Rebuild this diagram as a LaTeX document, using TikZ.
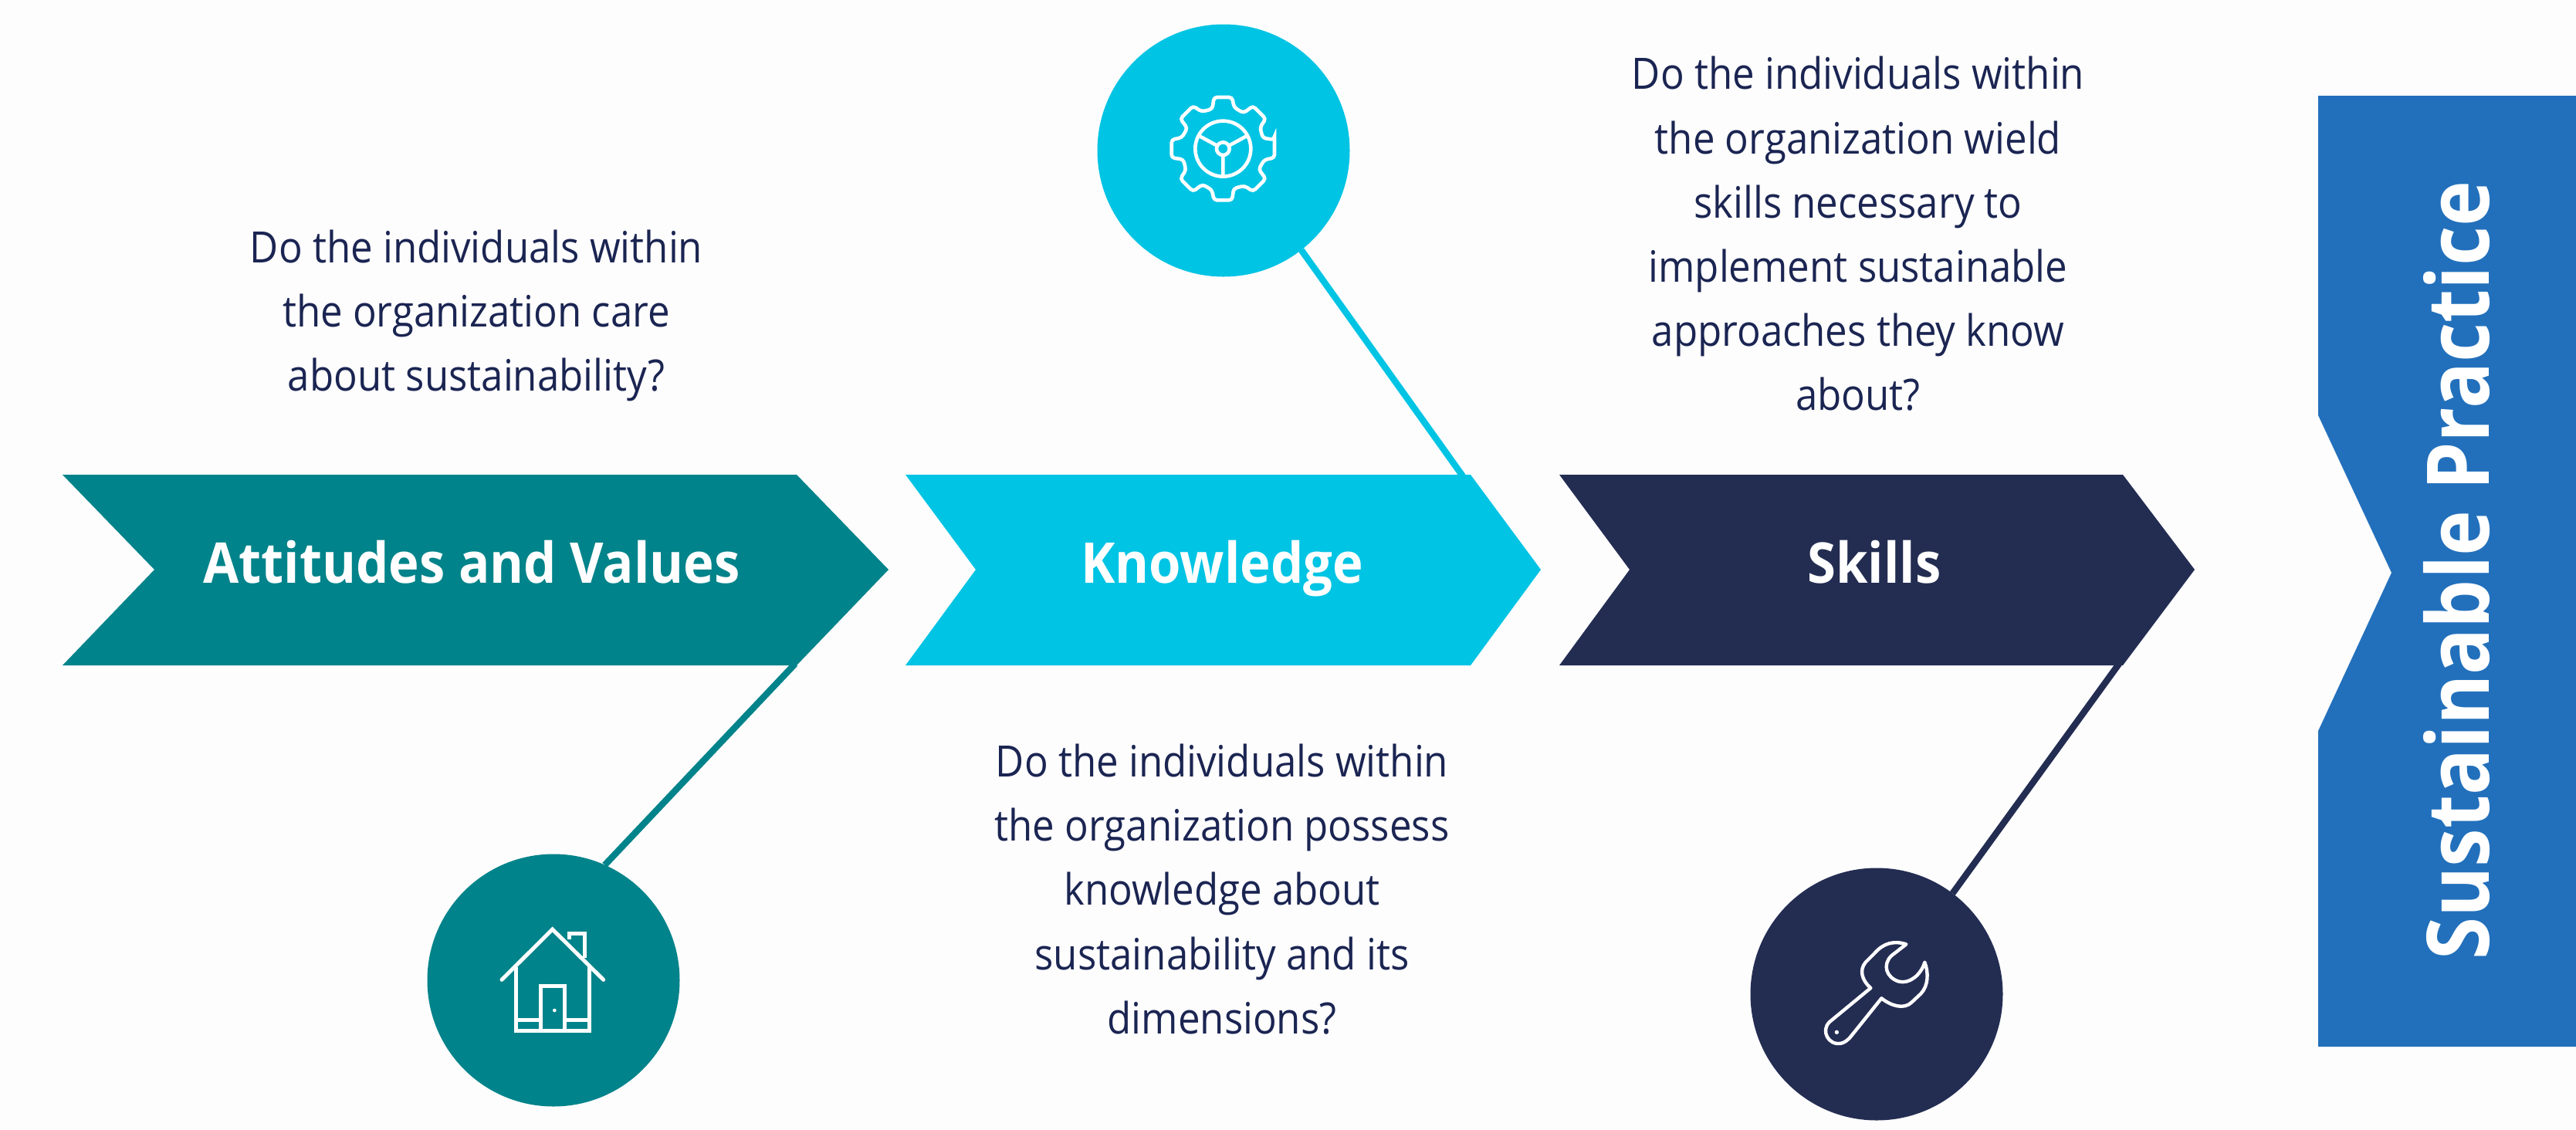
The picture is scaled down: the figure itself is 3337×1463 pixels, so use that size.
\documentclass[tikz,border=0pt]{standalone}
\usepackage{fontspec}
\setmainfont{Open Sans}
\newfontfamily\bodyfont[FakeStretch=0.91]{Open Sans}
\newfontfamily\titlefont[FakeStretch=0.92]{Open Sans}
\newfontfamily\bigfont[FakeStretch=0.89]{Open Sans}
\definecolor{tealc}{HTML}{00838A}
\definecolor{cyanc}{HTML}{00C4E4}
\definecolor{navyc}{HTML}{232D52}
\definecolor{bluec}{HTML}{2270BC}
\definecolor{textc}{HTML}{1B2552}
\definecolor{bgc}{HTML}{FDFDFE}
\tikzset{
  body/.style={text=textc,font=\bodyfont\fontsize{28}{41.6}\selectfont,align=center,inner sep=0pt},
  title/.style={text=white,font=\titlefont\fontsize{36.4}{40}\selectfont\bfseries,inner sep=0pt,anchor=base},
  disc/.style={circle,minimum size=163.5pt,inner sep=0pt,outer sep=0pt,fill=#1},
  stem/.style={draw=#1,line width=4.2pt},
  icon/.style={draw=white,line width=2.5pt,line join=miter}
}
\begin{document}
\begin{tikzpicture}[x=0.5pt,y=-0.5pt]
\useasboundingbox (0,0) rectangle (3337,1463);
\fill[bgc] (0,0) rectangle (3337,1463);
% chevrons
\fill[tealc] (81,615) -- (1032,615) -- (1151,738) -- (1032,862) -- (81,862) -- (200,738) -- cycle;
\fill[cyanc] (1173,615) -- (1905,615) -- (1996,738) -- (1905,862) -- (1173,862) -- (1264,738) -- cycle;
\fill[navyc] (2020,615) -- (2750,615) -- (2843,738) -- (2750,862) -- (2020,862) -- (2111,738) -- cycle;
\fill[bluec] (3003,124) -- (3337,124) -- (3337,1356) -- (3003,1356) -- (3003,947) -- (3098,742) -- (3003,538) -- cycle;
\coordinate (attfoot) at (1030,860);
\coordinate (knowfoot) at (1895,617);
\coordinate (skillfoot) at (2745,860);
% circles
\node[disc=tealc] (homedisc) at (717,1270) {};
\node[disc=cyanc] (geardisc) at (1585,195) {};
\node[disc=navyc] (wrenchdisc) at (2431,1288) {};
% connectors
\draw[stem=tealc] (attfoot) -- (homedisc.66);
\draw[stem=cyanc] (knowfoot) -- (geardisc.-52);
\draw[stem=navyc] (skillfoot) -- (wrenchdisc.53);
% titles
\node[title] (atttitle) at (611,755) {Attitudes and Values};
\node[title] (knowtitle) at (1583,755) {Knowledge};
\node[title] (skilltitle) at (2428,755) {Skills};
\node[text=white,font=\bigfont\fontsize{56}{60}\selectfont\bfseries,inner sep=0pt,rotate=90,anchor=base] (practice) at (3224,739) {Sustainable Practice};
% body
\node[body] (attbody) at (617,409) {Do the individuals within\\the organization care\\about sustainability?};
\node[body] (knowbody) at (1583,1152) {Do the individuals within\\the organization possess\\knowledge about\\sustainability and its\\dimensions?};
\node[body] (skillbody) at (2407,303) {Do the individuals within\\the organization wield\\skills necessary to\\implement sustainable\\approaches they know\\about?};
% house icon
\begin{scope}[shift={(500,1050)},scale=1/3]
\draw[icon,line cap=round] (450,658) -- (647,462) -- (845,658);
\draw[icon] (505,610) -- (505,855) -- (790,855) -- (790,610);
\draw[icon] (505,815) -- (600,815) (695,815) -- (790,815);
\draw[icon] (600,855) -- (600,682) -- (695,682) -- (695,855);
\draw[icon] (712,500) -- (712,478) -- (772,478) -- (772,572);
\fill[white] (655,777) circle (7);
\end{scope}
% gear icon
\begin{scope}[shift={(1380,0)},scale=1/3]
\begin{scope}[shift={(613,578)}]
\draw[icon,line width=2.3pt,rounded corners=2pt]
  (-10:203) \foreach \a in {0,45,...,315} {
    -- (\a-10:203) -- (\a+10:203) -- (\a+15:166) -- (\a+30:160) } -- cycle;
\draw[icon,line width=2.3pt] (0,0) circle (108);
\draw[icon,line width=2.3pt] (0,0) circle (25);
\draw[icon,line width=2.3pt] (0,27) -- (0,108) (-25,-13) -- (-93,-50) (25,-13) -- (93,-50);
\end{scope}
\end{scope}
% wrench icon
\begin{scope}[shift={(2220,1100)},scale=1/3]
\draw[icon,line width=2.2pt,line join=round]
  (610,540) -- (450,672) .. controls (415,705) and (445,765) .. (495,755)
  .. controls (510,752) and (520,742) .. (530,732)
  -- (652,580) .. controls (690,610) and (740,625) .. (770,595)
  -- (805,562) .. controls (835,530) and (835,480) .. (820,440)
  .. controls (805,490) and (760,525) .. (720,515)
  .. controls (670,500) and (655,450) .. (690,415)
  -- (748,370) .. controls (700,355) and (660,365) .. (625,405)
  -- (590,440) .. controls (565,470) and (575,510) .. (610,540) -- cycle;
\fill[white] (478,712) circle (8);
\end{scope}
\end{tikzpicture}
\end{document}
